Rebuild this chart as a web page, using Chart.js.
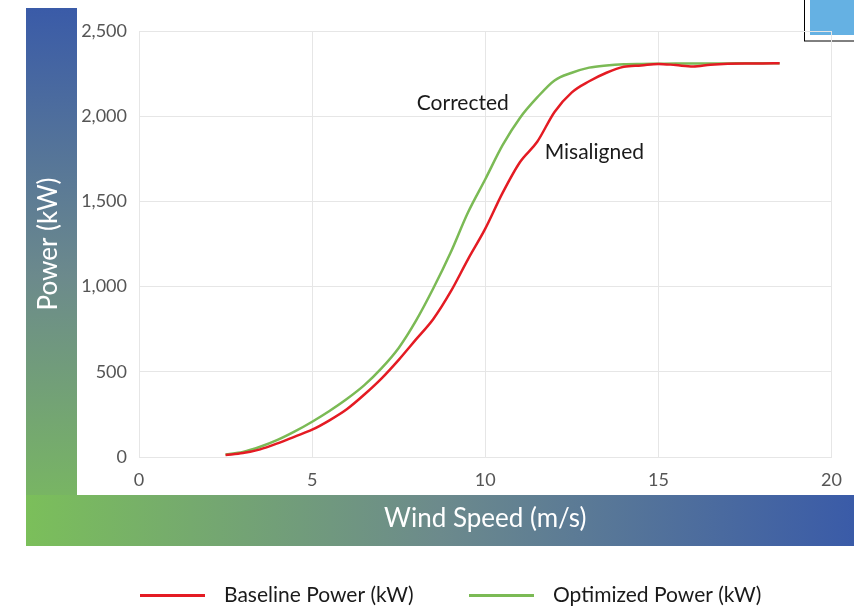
<!DOCTYPE html>
<html>
<head>
<meta charset="utf-8">
<script src="https://cdn.jsdelivr.net/npm/chart.js@4.4.1/dist/chart.umd.min.js"></script>
<style>
  html, body { margin: 0; padding: 0; background: #ffffff; }
  canvas { display: block; }
</style>
</head>
<body>
<canvas id="powerCurveChart" width="854" height="606"></canvas>
<script>
// Power curve data (wind speed in m/s, power in kW)
const windSpeeds = [2.5, 3, 3.5, 4, 4.5, 5, 5.5, 6, 6.5, 7, 7.5, 8, 8.5, 9, 9.5, 10, 10.5, 11, 11.5, 12, 12.5, 13, 13.5, 14, 14.5, 15, 15.5, 16, 16.5, 17, 17.5, 18, 18.5];
const baselinePower = [12, 23, 45, 80, 120, 160, 215, 280, 365, 460, 570, 690, 810, 970, 1160, 1340, 1550, 1730, 1850, 2025, 2140, 2205, 2255, 2290, 2298, 2307, 2300, 2292, 2302, 2308, 2310, 2310, 2311];
const optimizedPower = [15, 30, 60, 100, 150, 207, 270, 340, 420, 520, 640, 800, 990, 1200, 1435, 1630, 1830, 1990, 2110, 2210, 2255, 2285, 2298, 2305, 2307, 2308, 2309, 2309, 2310, 2310, 2311, 2311, 2311];
const seriesLabels = ['Baseline Power (kW)', 'Optimized Power (kW)'];
const seriesColors = ['#E41B23', '#7BBA55'];
const xTicks = [0, 5, 10, 15, 20];
const yTicks = [0, 500, 1000, 1500, 2000, 2500];
const annotations = [
    { text: 'Corrected', x: 9.35, y: 2075 },
    { text: 'Misaligned', x: 13.15, y: 1788 }
];

const FONT = "Lato, 'Open Sans', Arial, sans-serif";

function toPoints(values) {
    return windSpeeds.map((x, i) => ({ x: x, y: values[i] }));
}

// Frame: gradient L-shaped bars, axis titles, top-right box
const framePlugin = {
    id: 'frame',
    beforeDraw(chart) {
        const ctx = chart.ctx;
        const area = chart.chartArea;
        ctx.save();

        // vertical bar (blue at top -> green at bottom)
        let g = ctx.createLinearGradient(0, 8, 0, 546);
        g.addColorStop(0, '#3A5BA8');
        g.addColorStop(0.5, '#6C8A8C');
        g.addColorStop(1, '#7BBF5A');
        ctx.fillStyle = g;
        ctx.fillRect(26, 8, 51, 538);

        // horizontal bar (green at left -> blue at right)
        g = ctx.createLinearGradient(26, 0, 854, 0);
        g.addColorStop(0, '#7BBF5A');
        g.addColorStop(0.5, '#6C8A8C');
        g.addColorStop(1, '#3A5BA8');
        ctx.fillStyle = g;
        ctx.fillRect(26, 495, 828, 51);

        // axis titles
        ctx.fillStyle = '#ffffff';
        ctx.font = '26px ' + FONT;
        ctx.textAlign = 'center';
        ctx.textBaseline = 'middle';
        ctx.fillText('Wind Speed (m/s)', (area.left + area.right) / 2, 519);
        ctx.save();
        ctx.translate(49, (area.top + area.bottom) / 2);
        ctx.rotate(-Math.PI / 2);
        ctx.fillText('Power (kW)', 0, 0);
        ctx.restore();

        // partial box at top right
        ctx.fillStyle = '#ffffff';
        ctx.fillRect(804, -2, 60, 43);
        ctx.strokeStyle = '#000000';
        ctx.lineWidth = 1;
        ctx.strokeRect(804.5, -2, 60, 43);
        ctx.fillStyle = '#65B1E3';
        ctx.fillRect(810, 0, 44, 35);

        ctx.restore();
    },
    afterDraw(chart) {
        const ctx = chart.ctx;
        const xs = chart.scales.x;
        const ys = chart.scales.y;
        ctx.save();

        // in-plot labels
        ctx.fillStyle = '#1A1A1A';
        ctx.font = '21px ' + FONT;
        ctx.textAlign = 'center';
        ctx.textBaseline = 'middle';
        annotations.forEach(a => {
            ctx.fillText(a.text, xs.getPixelForValue(a.x), ys.getPixelForValue(a.y));
        });

        // legend
        const legendX = [140, 469];
        const legendY = 595.5;
        ctx.font = '21px ' + FONT;
        ctx.textAlign = 'left';
        chart.data.datasets.forEach((ds, i) => {
            ctx.strokeStyle = ds.borderColor;
            ctx.lineWidth = 3;
            ctx.beginPath();
            ctx.moveTo(legendX[i], legendY);
            ctx.lineTo(legendX[i] + 65, legendY);
            ctx.stroke();
            ctx.fillStyle = '#1A1A1A';
            ctx.fillText(ds.label, legendX[i] + 84, legendY);
        });

        ctx.restore();
    }
};

const ctx = document.getElementById('powerCurveChart');
new Chart(ctx, {
    type: 'line',
    data: {
        datasets: [
            {
                label: seriesLabels[0],
                data: toPoints(baselinePower),
                borderColor: seriesColors[0],
                backgroundColor: seriesColors[0],
                borderWidth: 2.5,
                pointRadius: 0,
                cubicInterpolationMode: 'monotone',
                fill: false
            },
            {
                label: seriesLabels[1],
                data: toPoints(optimizedPower),
                borderColor: seriesColors[1],
                backgroundColor: seriesColors[1],
                borderWidth: 2.5,
                pointRadius: 0,
                cubicInterpolationMode: 'monotone',
                fill: false
            }
        ]
    },
    options: {
        responsive: false,
        animation: false,
        devicePixelRatio: 1,
        layout: {
            padding: { left: 77, right: 22, top: 31, bottom: 104 }
        },
        plugins: {
            legend: { display: false },
            tooltip: { enabled: false }
        },
        scales: {
            x: {
                type: 'linear',
                min: xTicks[0],
                max: xTicks[xTicks.length - 1],
                afterBuildTicks: scale => { scale.ticks = xTicks.map(v => ({ value: v })); },
                afterFit: scale => { scale.height = 45; },
                grid: { color: '#E6E6E6', drawTicks: false },
                border: { color: '#E6E6E6' },
                ticks: {
                    color: '#555555',
                    font: { family: FONT, size: 18 },
                    padding: 12,
                    maxRotation: 0
                }
            },
            y: {
                type: 'linear',
                min: yTicks[0],
                max: yTicks[yTicks.length - 1],
                afterBuildTicks: scale => { scale.ticks = yTicks.map(v => ({ value: v })); },
                afterFit: scale => { scale.width = 62; },
                grid: { color: '#E6E6E6', drawTicks: false },
                border: { color: '#E6E6E6' },
                ticks: {
                    color: '#555555',
                    font: { family: FONT, size: 18 },
                    padding: 12,
                    callback: v => v.toLocaleString('en-US')
                }
            }
        }
    },
    plugins: [framePlugin]
});
</script>
</body>
</html>
